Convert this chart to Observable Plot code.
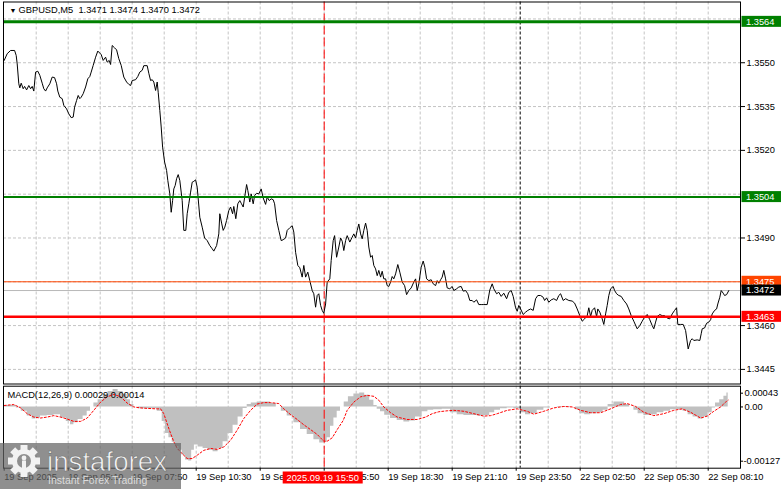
<!DOCTYPE html>
<html><head><meta charset="utf-8">
<script src="https://cdn.jsdelivr.net/npm/d3@7"></script>
<script src="https://cdn.jsdelivr.net/npm/@observablehq/plot@0.6"></script>
<style>
html,body{margin:0;padding:0;background:#fff;}
#wrap{position:relative;width:781px;height:489px;overflow:hidden;font-family:"Liberation Sans",Arial,sans-serif;}
#wrap > svg{position:absolute;left:0;}
</style></head><body><div id="wrap"></div>
<script>
// ---------- data ----------
const symbol = "GBPUSD,M5";
const ohlc = [1.3471, 1.3474, 1.3470, 1.3472];

// 5-minute bar index (0 = 19 Sep 02:30) and close price
const priceBars = [0,1.5,3.2,5.2,6.0,6.5,7.3,7.8,8.5,9.5,10.2,11.2,12.3,13.2,14.0,14.8,15.7,16.8,17.8,19.0,19.8,20.7,21.5,22.8,24.0,25.2,26.2,26.8,27.8,29.0,29.8,31.2,32.3,33.5,34.5,35.2,36.2,37.0,37.8,38.5,39.5,40.7,41.8,42.8,43.5,44.5,45.7,46.8,47.8,48.5,49.5,50.7,51.5,52.5,53.2,54.0,55.2,56.2,57.3,58.5,59.8,61.2,62.3,63.2,64.0,65.7,66.8,67.8,69.0,69.8,71.5,72.3,73.2,74.0,74.8,75.7,76.5,77.0,77.8,78.5,79.2,80.2,81.2,81.8,82.8,83.5,84.2,84.8,85.5,86.2,87.0,87.8,89.0,89.8,90.8,91.5,92.3,93.2,94.0,94.8,95.7,96.5,97.8,99.0,100.2,101.5,102.8,104.0,104.8,106.2,107.3,107.8,108.7,109.5,110.3,111.2,112.3,113.2,114.2,114.8,115.8,116.8,117.8,118.5,119.5,120.5,121.2,121.8,122.8,123.5,124.5,125.2,126.2,127.3,128.5,129.5,130.7,131.5,132.5,133.5,134.5,135.2,136.2,137.3,138.5,139.5,140.7,141.5,142.8,144.0,144.8,145.7,146.8,147.8,149.0,149.8,150.7,151.8,152.8,154.0,154.8,155.7,156.5,157.3,158.2,159.0,159.8,160.7,161.5,162.8,163.5,164.5,165.2,166.2,167.3,168.2,169.0,169.8,170.7,171.5,172.8,174.0,174.8,175.7,176.5,177.3,178.2,179.0,179.8,180.7,181.5,182.3,183.2,184.0,184.8,185.7,186.5,187.3,188.2,189.0,189.8,190.7,191.5,192.3,193.2,194.0,194.8,195.7,196.8,197.8,199.0,200.2,201.2,202.3,203.5,204.8,205.7,206.5,207.3,208.5,209.5,210.3,211.2,212.3,213.5,214.5,215.7,216.5,217.3,218.2,219.0,219.8,220.7,221.5,222.8,224.0,224.8,226.2,227.3,228.5,229.5,230.7,231.8,232.8,234.0,234.8,236.2,237.3,238.5,239.8,241.5,242.8,244.0,244.8,246.2,247.3,248.5,249.8,251.2,252.3,253.5,254.5,255.7,256.5,257.3,258.2,259.5,260.7,261.8,263.2,264.5,265.7,266.8,268.2,269.5,270.2,271.2,272.3,273.5,274.8,276.2,277.3,278.2,279.5,280.7,282.3,284.0,285.2,286.5,287.8,289.0,290.2,291.5,292.3,293.2,294.0,295.2,296.2,296.8,297.8,299.0,299.8,300.7,301.5,302.3,303.2,304.5,305.2,306.2,307.3,308.5,309.8,311.2,312.3,313.5,314.8,316.5,317.8,319.0,320.2,321.5,322.8,324.0,324.8,325.7,326.5,327.8,329.0,330.2,331.5,332.8,334.0,335.2,336.2,336.8,338.2,339.5,340.7,342.0,343.2,344.0,344.8,346.5,347.8,348.5,349.0,350.2,351.2,352.3,353.2,354.0,355.2,356.2,356.8,357.8,358.5,359.5,360.2,361.2,362.3];
const priceValues = [1.35508,1.35531,1.35542,1.35542,1.35525,1.35496,1.35428,1.35414,1.35430,1.35411,1.35419,1.35407,1.35422,1.35411,1.35419,1.35403,1.35468,1.35471,1.35457,1.35430,1.35411,1.35403,1.35414,1.35428,1.35451,1.35449,1.35428,1.35403,1.35382,1.35377,1.35354,1.35342,1.35325,1.35312,1.35314,1.35348,1.35371,1.35388,1.35377,1.35382,1.35394,1.35417,1.35445,1.35453,1.35468,1.35491,1.35519,1.35540,1.35533,1.35528,1.35508,1.35519,1.35502,1.35508,1.35494,1.35559,1.35551,1.35544,1.35514,1.35491,1.35451,1.35434,1.35426,1.35422,1.35439,1.35442,1.35453,1.35468,1.35474,1.35490,1.35490,1.35464,1.35439,1.35442,1.35434,1.35405,1.35434,1.35399,1.35337,1.35280,1.35211,1.35160,1.35131,1.35097,1.35051,1.34988,1.35028,1.35068,1.35080,1.35103,1.35117,1.35097,1.35028,1.34926,1.34926,1.34983,1.35017,1.35057,1.35091,1.35094,1.35099,1.35074,1.34971,1.34937,1.34900,1.34891,1.34874,1.34863,1.34855,1.34874,1.34914,1.34983,1.34951,1.34926,1.34937,1.34960,1.34994,1.35006,1.34983,1.35008,1.34966,1.35017,1.35028,1.35019,1.35006,1.35051,1.35083,1.35063,1.35023,1.35051,1.35017,1.35045,1.35053,1.35051,1.35068,1.35037,1.35015,1.35040,1.35028,1.35034,1.35031,1.35017,1.34960,1.34926,1.34891,1.34894,1.34900,1.34926,1.34935,1.34942,1.34920,1.34851,1.34806,1.34798,1.34766,1.34806,1.34766,1.34783,1.34754,1.34720,1.34709,1.34663,1.34703,1.34709,1.34669,1.34652,1.34642,1.34674,1.34749,1.34760,1.34823,1.34891,1.34908,1.34834,1.34869,1.34900,1.34889,1.34857,1.34891,1.34908,1.34886,1.34903,1.34914,1.34900,1.34926,1.34948,1.34914,1.34897,1.34926,1.34951,1.34926,1.34869,1.34834,1.34840,1.34806,1.34794,1.34771,1.34789,1.34766,1.34786,1.34760,1.34760,1.34737,1.34734,1.34749,1.34768,1.34760,1.34777,1.34809,1.34783,1.34749,1.34737,1.34706,1.34720,1.34729,1.34749,1.34760,1.34720,1.34743,1.34800,1.34821,1.34800,1.34760,1.34754,1.34757,1.34743,1.34737,1.34754,1.34745,1.34757,1.34766,1.34789,1.34760,1.34729,1.34726,1.34734,1.34720,1.34726,1.34732,1.34734,1.34718,1.34720,1.34709,1.34686,1.34686,1.34680,1.34688,1.34672,1.34672,1.34672,1.34672,1.34722,1.34743,1.34726,1.34709,1.34714,1.34700,1.34711,1.34692,1.34714,1.34720,1.34700,1.34661,1.34649,1.34669,1.34657,1.34638,1.34646,1.34652,1.34657,1.34652,1.34692,1.34703,1.34703,1.34697,1.34686,1.34695,1.34680,1.34688,1.34692,1.34686,1.34703,1.34709,1.34686,1.34692,1.34686,1.34684,1.34677,1.34657,1.34634,1.34615,1.34623,1.34634,1.34661,1.34631,1.34652,1.34661,1.34631,1.34657,1.34646,1.34623,1.34604,1.34640,1.34669,1.34703,1.34726,1.34734,1.34720,1.34709,1.34703,1.34700,1.34686,1.34674,1.34657,1.34634,1.34615,1.34589,1.34600,1.34615,1.34629,1.34638,1.34620,1.34600,1.34589,1.34612,1.34631,1.34638,1.34634,1.34634,1.34626,1.34623,1.34640,1.34652,1.34661,1.34604,1.34604,1.34604,1.34583,1.34520,1.34549,1.34555,1.34549,1.34551,1.34549,1.34572,1.34589,1.34592,1.34608,1.34612,1.34620,1.34640,1.34652,1.34657,1.34674,1.34697,1.34720,1.34711,1.34703,1.34706,1.34720];

// MACD main (histogram)
const macdBars = [0,4.8,7.3,9.8,13.2,14.8,16.5,19.8,23.2,26.5,29.8,32.3,34.0,35.7,38.2,40.7,42.3,44.0,45.7,48.2,50.7,53.2,55.7,58.2,60.7,62.3,64.0,65.7,68.2,71.5,74.8,78.2,79.8,81.5,83.2,84.8,86.5,88.2,89.8,91.5,93.0,94.5,95.7,98.2,100.7,103.2,105.7,108.2,110.7,113.2,115.7,118.2,120.7,122.3,124.8,128.2,131.5,134.8,137.3,139.8,143.2,146.5,149.8,153.2,156.5,159.0,160.7,162.3,164.0,165.7,167.3,169.0,171.0,173.2,176.5,179.0,181.5,184.0,185.7,187.3,189.0,191.5,194.8,198.2,201.5,204.0,207.3,210.7,213.0,216.5,221.5,224.8,228.2,231.5,234.8,238.2,241.5,244.0,246.5,249.8,253.2,256.5,259.8,261.5,264.8,268.2,271.5,274.8,278.2,281.5,284.8,286.5,289.0,291.5,294.8,298.2,300.7,303.2,306.5,309.0,311.5,314.0,315.7,318.2,321.5,324.8,328.2,331.5,334.8,338.2,340.7,343.2,345.7,348.2,350.7,353.2,354.8,356.5,359.0,360.7,362.0];
const macdValues = [0.00003,0.00003,-0.00002,-0.00009,-0.00019,-0.00025,-0.00023,-0.00019,-0.00018,-0.00016,-0.00023,-0.00030,-0.00037,-0.00033,-0.00026,-0.00019,-0.00009,0.00000,0.00008,0.00015,0.00026,0.00032,0.00036,0.00032,0.00026,0.00015,0.00005,0.00000,-0.00004,-0.00004,-0.00004,-0.00009,-0.00030,-0.00055,-0.00064,-0.00073,-0.00082,-0.00090,-0.00100,-0.00110,-0.00112,-0.00090,-0.00079,-0.00083,-0.00086,-0.00090,-0.00093,-0.00086,-0.00072,-0.00055,-0.00038,-0.00021,-0.00003,0.00005,0.00008,0.00010,0.00010,0.00007,0.00000,-0.00009,-0.00019,-0.00033,-0.00047,-0.00057,-0.00068,-0.00075,-0.00073,-0.00064,-0.00040,-0.00023,-0.00009,0.00000,0.00010,0.00021,0.00027,0.00029,0.00024,0.00014,0.00003,-0.00005,-0.00010,-0.00017,-0.00024,-0.00028,-0.00031,-0.00029,-0.00021,-0.00010,-0.00007,-0.00006,-0.00005,-0.00012,-0.00016,-0.00018,-0.00018,-0.00019,-0.00018,-0.00012,-0.00007,-0.00004,-0.00002,-0.00004,-0.00012,-0.00016,-0.00014,-0.00007,-0.00002,0.00000,0.00001,0.00001,0.00000,-0.00006,-0.00014,-0.00016,-0.00014,-0.00012,-0.00007,0.00005,0.00010,0.00010,0.00005,0.00000,-0.00007,-0.00014,-0.00018,-0.00016,-0.00012,-0.00009,-0.00006,-0.00006,-0.00009,-0.00016,-0.00021,-0.00025,-0.00021,-0.00012,-0.00002,0.00008,0.00015,0.00022,0.00029];

// MACD signal line
const signalBars = [0,4.8,8.2,11.5,14.8,18.2,21.5,24.8,28.2,31.5,34.8,38.2,41.5,44.8,48.2,51.5,54.8,58.2,61.5,64.8,68.2,71.5,76.5,78.2,79.8,81.5,83.2,84.8,86.5,89.0,91.5,94.0,96.5,99.8,103.2,106.5,109.8,113.2,116.5,119.8,123.2,126.5,129.8,133.2,137.3,139.8,143.2,146.5,149.8,153.2,156.5,159.8,161.5,164.0,166.5,169.5,171.5,174.8,178.2,181.5,184.8,187.3,189.8,193.2,196.5,201.5,206.5,210.7,214.0,217.3,221.5,224.8,229.8,234.8,239.8,243.2,246.5,251.5,256.5,261.5,264.8,269.8,274.8,279.8,284.0,288.2,293.2,298.2,303.2,308.2,311.5,315.7,319.8,324.8,329.8,334.8,339.0,343.2,348.2,351.5,354.8,358.2,360.7,362.0];
const signalValues = [0.00003,0.00005,-0.00002,-0.00014,-0.00021,-0.00023,-0.00021,-0.00018,-0.00021,-0.00025,-0.00030,-0.00030,-0.00023,-0.00007,0.00010,0.00021,0.00026,0.00021,0.00008,0.00000,-0.00002,-0.00003,-0.00004,-0.00004,-0.00014,-0.00035,-0.00055,-0.00072,-0.00086,-0.00097,-0.00107,-0.00107,-0.00100,-0.00090,-0.00086,-0.00088,-0.00083,-0.00069,-0.00048,-0.00024,-0.00007,0.00006,0.00009,0.00009,0.00007,-0.00004,-0.00016,-0.00026,-0.00037,-0.00047,-0.00057,-0.00071,-0.00071,-0.00064,-0.00047,-0.00028,-0.00007,0.00010,0.00021,0.00024,0.00022,0.00014,0.00000,-0.00012,-0.00021,-0.00026,-0.00026,-0.00021,-0.00014,-0.00010,-0.00008,-0.00007,-0.00009,-0.00014,-0.00019,-0.00018,-0.00014,-0.00007,-0.00004,-0.00009,-0.00015,-0.00009,-0.00002,0.00001,0.00000,-0.00007,-0.00012,-0.00012,-0.00004,0.00005,0.00007,0.00001,-0.00011,-0.00018,-0.00014,-0.00007,-0.00004,-0.00011,-0.00023,-0.00019,-0.00009,0.00000,0.00010,0.00014];

const macdName = "MACD(12,26,9)";
const macdNow = 0.00029, signalNow = 0.00014;

const priceTicks = [1.3445, 1.3460, 1.3475, 1.3490, 1.3505, 1.3520, 1.3535, 1.3550, 1.3565];
const levelPrices = [1.3564, 1.3504, 1.3475, 1.3463];
const bidPrice = 1.3472;
const macdTicks = [0.00043, 0, -0.00127];
const macdTickLabels = ["0.00043", "0.00", "-0.00127"];

const timeTickBars = [0, 32, 64, 96, 128, 160, 192, 224, 256, 288, 320, 352];
const timeTickLabels = ["19 Sep 2025", "19 Sep 05:10", "19 Sep 07:50", "19 Sep 10:30", "19 Sep 13:10", "19 Sep 15:50", "19 Sep 18:30", "19 Sep 21:10", "19 Sep 23:50", "22 Sep 02:50", "22 Sep 05:30", "22 Sep 08:10"];
const markerBar = 160, markerLabel = "2025.09.19 15:50";
const separatorBar = 258;

// ---------- build ----------
const price = priceBars.map((b, i) => ({bar: b, p: priceValues[i]}));
const macd = macdBars.map((b, i) => ({bar: b, v: macdValues[i]}));
const signal = signalBars.map((b, i) => ({bar: b, v: signalValues[i]}));
const gridBars = d3.range(16, 353, 16);
const FONT = "'Liberation Sans', Arial, sans-serif";
const FS = 9.3;
const GRID = {stroke: "#c4c4c4", strokeDasharray: "3,2", strokeWidth: 1};
const xDomain = [-0.35, 368.15];
const levelColor = ["#008000", "#008000", "#ff4500", "#ff0000"];
const levelWidth = [3, 2, 1, 2.5];
const tickLabelMap = new Map(timeTickBars.map((b, i) => [b, timeTickLabels[i]]));
const AX = {fontSize: FS, stroke: "#000", fill: "#000", label: null};
// scale labels hidden behind the coloured price boxes are not drawn
const boxed = [...levelPrices, bidPrice];
const shownPriceTicks = priceTicks.filter(t => !boxed.some(p => Math.abs(p - t) < 0.00025));

const wrap = document.getElementById("wrap");

const mainChart = Plot.plot({
  width: 781, height: 385,
  marginTop: 1.5, marginBottom: 1.5, marginLeft: 3, marginRight: 41,
  x: {type: "linear", domain: xDomain, axis: null, label: null},
  y: {domain: [1.34400, 1.35708], axis: null, label: null},
  style: {fontFamily: FONT, fontSize: FS + "px", background: "transparent", color: "#000", overflow: "visible"},
  marks: [
    Plot.ruleY(priceTicks, GRID),
    Plot.ruleX(gridBars, GRID),
    Plot.ruleX([separatorBar], {stroke: "#000", strokeDasharray: "3,2"}),
    Plot.ruleX([markerBar], {stroke: "#ff0000", strokeDasharray: "9,3"}),
    Plot.ruleY([bidPrice], {stroke: "#b8b8b8"}),
    Plot.line(price, {x: "bar", y: "p", stroke: "#000", strokeWidth: 1}),
    ...levelPrices.map((p, i) => Plot.ruleY([p], {stroke: levelColor[i], strokeWidth: levelWidth[i]})),
    Plot.frame({stroke: "#000"}),
    Plot.axisY(shownPriceTicks, {anchor: "right", tickFormat: d3.format(".4f"), tickSize: 4, tickPadding: 2, ...AX}),
    Plot.text(["\u25BC"], {frameAnchor: "top-left", dx: 6, dy: 8.5, fontSize: 7, textAnchor: "start", lineAnchor: "middle", fill: "#000"}),
    Plot.text([symbol + "  " + ohlc.map(d3.format(".4f")).join(" ")], {frameAnchor: "top-left", dx: 15, dy: 8.5, textAnchor: "start", lineAnchor: "middle", fill: "#000", fontSize: FS})
  ]
});
mainChart.style.top = "0px";
wrap.appendChild(mainChart);

// coloured price labels on the right scale
const ys = mainChart.scale("y");
const labelSpecs = levelPrices.map((p, i) => ({p, bg: levelColor[i], fg: "#fff"}));
labelSpecs.splice(3, 0, {p: bidPrice, bg: "#000", fg: "#fff"});
const gsel = d3.select(mainChart).append("g").attr("font-family", FONT).attr("font-size", FS).attr("text-anchor", "start");
labelSpecs.forEach(s => {
  const y = ys.apply(s.p);
  gsel.append("rect").attr("x", 741.5).attr("y", y - 5.5).attr("width", 40).attr("height", 11).attr("fill", s.bg);
  gsel.append("text").attr("x", 746).attr("y", y).attr("dy", "0.35em").attr("text-anchor", "start").attr("fill", s.fg).text(d3.format(".4f")(s.p));
});

const macdChart = Plot.plot({
  width: 781, height: 105,
  marginTop: 1.7, marginBottom: 21.3, marginLeft: 3, marginRight: 41,
  x: {type: "linear", domain: xDomain, axis: null, label: null},
  y: {domain: [-0.00127, 0.00043], axis: null, label: null},
  style: {fontFamily: FONT, fontSize: FS + "px", background: "transparent", color: "#000", overflow: "visible"},
  marks: [
    Plot.ruleX(gridBars, GRID),
    Plot.areaY(macd, {x: "bar", y: "v", curve: "step", fill: "#c0c0c0"}),
    Plot.line(signal, {x: "bar", y: "v", stroke: "#ff0000", strokeWidth: 1, strokeDasharray: "2,2"}),
    Plot.ruleX([separatorBar], {stroke: "#000", strokeDasharray: "3,2"}),
    Plot.ruleX([markerBar], {stroke: "#ff0000", strokeDasharray: "9,3"}),
    Plot.frame({stroke: "#000"}),
    Plot.axisX(timeTickBars, {anchor: "bottom", tickFormat: d => tickLabelMap.get(d), textAnchor: "start", tickSize: 3, tickPadding: 2, ...AX}),
    Plot.axisY([macdTicks[0]], {anchor: "right", tickFormat: () => macdTickLabels[0], dy: 7, tickSize: 2, tickPadding: 2, ...AX}),
    Plot.axisY([macdTicks[1]], {anchor: "right", tickFormat: () => macdTickLabels[1], tickSize: 2, tickPadding: 2, ...AX}),
    Plot.axisY([macdTicks[2]], {anchor: "right", tickFormat: () => macdTickLabels[2], dy: -7, tickSize: 2, tickPadding: 1, ...AX}),
    Plot.text([`${macdName} ${d3.format(".5f")(macdNow)} ${d3.format(".5f")(signalNow)}`], {frameAnchor: "top-left", dx: 4, dy: 9, textAnchor: "start", lineAnchor: "middle", fill: "#000", fontSize: FS})
  ]
});
macdChart.style.top = "384px";
wrap.appendChild(macdChart);

// highlighted time label for the marker
const xs = macdChart.scale("x");
const mx = xs.apply(markerBar);
const mg = d3.select(macdChart).append("g").attr("font-family", FONT).attr("font-size", FS);
mg.append("rect").attr("x", mx - 41).attr("y", 87.5).attr("width", 80).attr("height", 12).attr("fill", "#ff0000");
mg.append("text").attr("x", mx - 1).attr("y", 93.5).attr("dy", "0.35em").attr("text-anchor", "middle").attr("fill", "#fff").text(markerLabel);

// watermark logo
const logo = d3.select(wrap).append("svg").attr("width", 181).attr("height", 46)
  .style("position", "absolute").style("left", "0px").style("top", "443px");
logo.append("rect").attr("width", 181).attr("height", 46).attr("fill", "rgb(100,100,100)").attr("fill-opacity", 0.72);
const gear = logo.append("g").attr("transform", "translate(24,18)").attr("fill", "#f2f2f2");
d3.range(8).forEach(k => gear.append("rect").attr("x", -3.5).attr("y", -16).attr("width", 7).attr("height", 7).attr("transform", `rotate(${k * 45})`));
gear.append("circle").attr("r", 12);
gear.append("circle").attr("r", 7).attr("fill", "#8f8f8f");
gear.append("circle").attr("cy", -3).attr("r", 2.4).attr("fill", "#f2f2f2");
gear.append("rect").attr("x", -2).attr("y", -0.5).attr("width", 4).attr("height", 13).attr("fill", "#f2f2f2");
logo.append("text").attr("x", 47).attr("y", 27.5).attr("font-family", FONT).attr("font-size", 27.7)
  .attr("fill", "#f4f4f4").attr("stroke", "#707070").attr("stroke-width", 0.6).text("instaforex");
logo.append("text").attr("x", 48).attr("y", 41).attr("font-family", FONT).attr("font-size", 10.5)
  .attr("fill", "#dcdcdc").text("Instant Forex Trading");
</script></body></html>
